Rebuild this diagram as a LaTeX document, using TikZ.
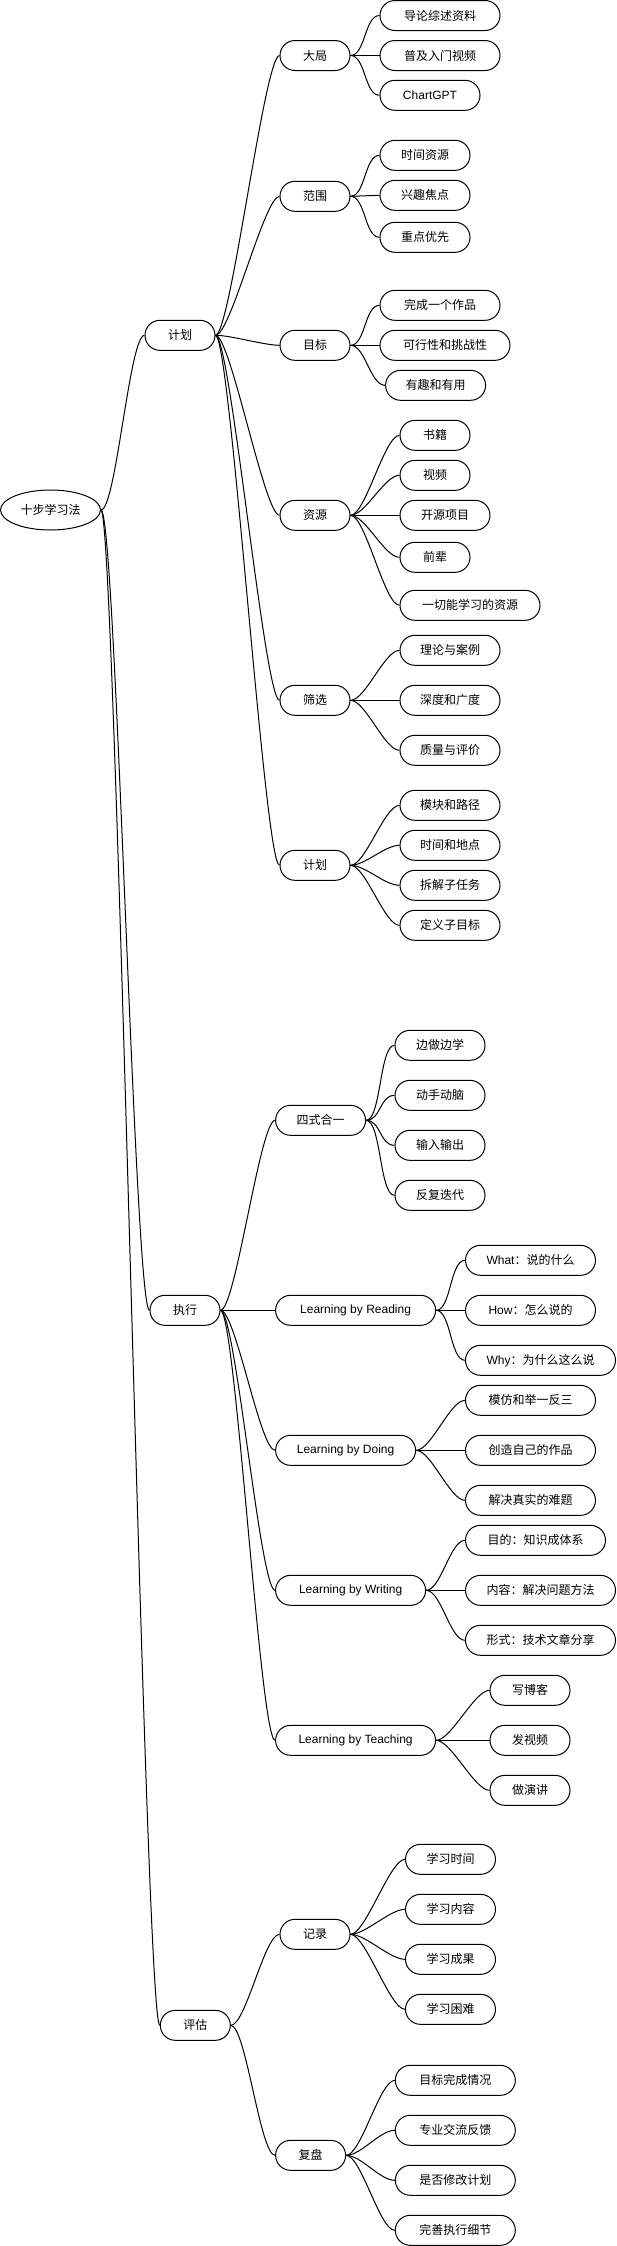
\documentclass[tikz,border=0pt]{standalone}
\usepackage{fontspec}
\setmainfont{Liberation Sans}
\newfontfamily\cjk{Noto Sans CJK SC}
\newfontfamily\lat{Liberation Sans}
\usetikzlibrary{shapes.geometric}

\begin{document}
\begin{tikzpicture}[x=1pt,y=-1pt,line width=1pt,
		box/.style={draw,rounded corners=15pt,minimum height=30pt,inner sep=0pt,font=\cjk\fontsize{12}{14}\selectfont},
		link/.style={to path={.. controls +(15,0) and +(-15,0) .. (\tikztotarget)}}]
		\useasboundingbox (0,0) rectangle (616,2246);

		\node[draw,ellipse,minimum width=100pt,minimum height=40pt,inner sep=0pt,font=\cjk\fontsize{12}{14}\selectfont] (root) at (50.5,510) {十步学习法};
		\node[box,minimum width=70pt] (jihua) at (180,335.3) {计划};
		\node[box,minimum width=70pt] (zhixing) at (185,1310.3) {执行};
		\node[box,minimum width=70pt] (pinggu) at (195.3,2025.3) {评估};
		\draw (root.east) to[link] (jihua.west);
		\draw (root.east) to[link] (zhixing.west);
		\draw (root.east) to[link] (pinggu.west);

		\node[box,minimum width=70pt] (daju) at (315,55.5) {大局};
		\node[box,minimum width=70pt] (fanwei) at (315,196.3) {范围};
		\node[box,minimum width=70pt] (mubiao) at (315,345.3) {目标};
		\node[box,minimum width=70pt] (ziyuan) at (315,515.3) {资源};
		\node[box,minimum width=70pt] (shaixuan) at (315,700.3) {筛选};
		\node[box,minimum width=70pt] (jihuab) at (315,865.3) {计划};
		\draw (jihua.east) to[link] (daju.west);
		\draw (jihua.east) to[link] (fanwei.west);
		\draw (jihua.east) to[link] (mubiao.west);
		\draw (jihua.east) to[link] (ziyuan.west);
		\draw (jihua.east) to[link] (shaixuan.west);
		\draw (jihua.east) to[link] (jihuab.west);

		\node[box,minimum width=120pt] (dja) at (440,15.5) {导论综述资料};
		\node[box,minimum width=120pt] (djb) at (440,55.5) {普及入门视频};
		\node[box,minimum width=100pt] (djc) at (430,95.3) {\lat ChartGPT};
		\draw (daju.east) to[link] (dja.west);
		\draw (daju.east) to[link] (djb.west);
		\draw (daju.east) to[link] (djc.west);

		\node[box,minimum width=90pt] (fwa) at (425,155.3) {时间资源};
		\node[box,minimum width=90pt] (fwb) at (425,195.3) {兴趣焦点};
		\node[box,minimum width=90pt] (fwc) at (425,237.3) {重点优先};
		\draw (fanwei.east) to[link] (fwa.west);
		\draw (fanwei.east) to[link] (fwb.west);
		\draw (fanwei.east) to[link] (fwc.west);

		\node[box,minimum width=120pt] (mba) at (440,305.3) {完成一个作品};
		\node[box,minimum width=130pt] (mbb) at (445,345.3) {可行性和挑战性};
		\node[box,minimum width=100pt] (mbc) at (435.6,385.3) {有趣和有用};
		\draw (mubiao.east) to[link] (mba.west);
		\draw (mubiao.east) to[link] (mbb.west);
		\draw (mubiao.east) to[link] (mbc.west);

		\node[box,minimum width=70pt] (zya) at (435,435.3) {书籍};
		\node[box,minimum width=70pt] (zyb) at (435,475.3) {视频};
		\node[box,minimum width=90pt] (zyc) at (445,515.3) {开源项目};
		\node[box,minimum width=70pt] (zyd) at (435,557.3) {前辈};
		\node[box,minimum width=140pt] (zye) at (470,605.3) {一切能学习的资源};
		\draw (ziyuan.east) to[link] (zya.west);
		\draw (ziyuan.east) to[link] (zyb.west);
		\draw (ziyuan.east) to[link] (zyc.west);
		\draw (ziyuan.east) to[link] (zyd.west);
		\draw (ziyuan.east) to[link] (zye.west);

		\node[box,minimum width=100pt] (sxa) at (450,650.3) {理论与案例};
		\node[box,minimum width=100pt] (sxb) at (450,700.3) {深度和广度};
		\node[box,minimum width=100pt] (sxc) at (450,750.3) {质量与评价};
		\draw (shaixuan.east) to[link] (sxa.west);
		\draw (shaixuan.east) to[link] (sxb.west);
		\draw (shaixuan.east) to[link] (sxc.west);

		\node[box,minimum width=100pt] (jha) at (450,805.3) {模块和路径};
		\node[box,minimum width=100pt] (jhb) at (450,845.3) {时间和地点};
		\node[box,minimum width=100pt] (jhc) at (450,885.3) {拆解子任务};
		\node[box,minimum width=100pt] (jhd) at (450,925.3) {定义子目标};
		\draw (jihuab.east) to[link] (jha.west);
		\draw (jihuab.east) to[link] (jhb.west);
		\draw (jihuab.east) to[link] (jhc.west);
		\draw (jihuab.east) to[link] (jhd.west);

		\node[box,minimum width=90pt] (sishi) at (320.6,1120.3) {四式合一};
		\node[box,minimum width=160pt] (reading) at (355.6,1310.3) {\lat Learning by Reading};
		\node[box,minimum width=140pt] (doing) at (345.6,1450.3) {\lat Learning by Doing};
		\node[box,minimum width=150pt] (writing) at (350.6,1590.3) {\lat Learning by Writing};
		\node[box,minimum width=160pt] (teaching) at (355.6,1740.3) {\lat Learning by Teaching};
		\draw (zhixing.east) to[link] (sishi.west);
		\draw (zhixing.east) to[link] (reading.west);
		\draw (zhixing.east) to[link] (doing.west);
		\draw (zhixing.east) to[link] (writing.west);
		\draw (zhixing.east) to[link] (teaching.west);

		\node[box,minimum width=90pt] (ssa) at (440,1045.3) {边做边学};
		\node[box,minimum width=90pt] (ssb) at (440,1095.3) {动手动脑};
		\node[box,minimum width=90pt] (ssc) at (440,1145.3) {输入输出};
		\node[box,minimum width=90pt] (ssd) at (440,1195.3) {反复迭代};
		\draw (sishi.east) to[link] (ssa.west);
		\draw (sishi.east) to[link] (ssb.west);
		\draw (sishi.east) to[link] (ssc.west);
		\draw (sishi.east) to[link] (ssd.west);

		\node[box,minimum width=130pt] (rda) at (530.5,1260.3) {{\lat What}：说的什么};
		\node[box,minimum width=130pt] (rdb) at (530.5,1310.3) {{\lat How}：怎么说的};
		\node[box,minimum width=150pt] (rdc) at (540.5,1360.3) {{\lat Why}：为什么这么说};
		\draw (reading.east) to[link] (rda.west);
		\draw (reading.east) to[link] (rdb.west);
		\draw (reading.east) to[link] (rdc.west);

		\node[box,minimum width=130pt] (dga) at (530.5,1400.3) {模仿和举一反三};
		\node[box,minimum width=130pt] (dgb) at (530.5,1450.3) {创造自己的作品};
		\node[box,minimum width=130pt] (dgc) at (530.5,1500.3) {解决真实的难题};
		\draw (doing.east) to[link] (dga.west);
		\draw (doing.east) to[link] (dgb.west);
		\draw (doing.east) to[link] (dgc.west);

		\node[box,minimum width=140pt] (wra) at (535.5,1540.3) {目的：知识成体系};
		\node[box,minimum width=150pt] (wrb) at (540.5,1590.3) {内容：解决问题方法};
		\node[box,minimum width=150pt] (wrc) at (540.5,1640.3) {形式：技术文章分享};
		\draw (writing.east) to[link] (wra.west);
		\draw (writing.east) to[link] (wrb.west);
		\draw (writing.east) to[link] (wrc.west);

		\node[box,minimum width=80pt] (tca) at (530,1690.3) {写博客};
		\node[box,minimum width=80pt] (tcb) at (530,1740.3) {发视频};
		\node[box,minimum width=80pt] (tcc) at (530,1790.3) {做演讲};
		\draw (teaching.east) to[link] (tca.west);
		\draw (teaching.east) to[link] (tcb.west);
		\draw (teaching.east) to[link] (tcc.west);

		\node[box,minimum width=70pt] (jilu) at (315,1934.3) {记录};
		\node[box,minimum width=70pt] (fupan) at (310.6,2155.3) {复盘};
		\draw (pinggu.east) to[link] (jilu.west);
		\draw (pinggu.east) to[link] (fupan.west);

		\node[box,minimum width=90pt] (jla) at (450.5,1859.3) {学习时间};
		\node[box,minimum width=90pt] (jlb) at (450.5,1909.3) {学习内容};
		\node[box,minimum width=90pt] (jlc) at (450.5,1959.3) {学习成果};
		\node[box,minimum width=90pt] (jld) at (450.5,2009.3) {学习困难};
		\draw (jilu.east) to[link] (jla.west);
		\draw (jilu.east) to[link] (jlb.west);
		\draw (jilu.east) to[link] (jlc.west);
		\draw (jilu.east) to[link] (jld.west);

		\node[box,minimum width=120pt] (fpa) at (455.3,2080.3) {目标完成情况};
		\node[box,minimum width=120pt] (fpb) at (455.3,2130.3) {专业交流反馈};
		\node[box,minimum width=120pt] (fpc) at (455.3,2180.3) {是否修改计划};
		\node[box,minimum width=120pt] (fpd) at (455.3,2230.3) {完善执行细节};
		\draw (fupan.east) to[link] (fpa.west);
		\draw (fupan.east) to[link] (fpb.west);
		\draw (fupan.east) to[link] (fpc.west);
		\draw (fupan.east) to[link] (fpd.west);
	\end{tikzpicture}
\end{document}
